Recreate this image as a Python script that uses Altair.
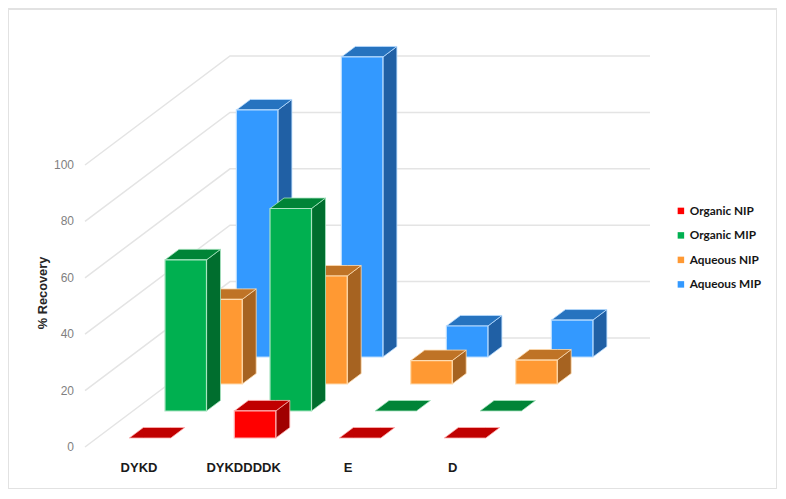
import altair as alt
import pandas as pd

categories = ["DYKD", "DYKDDDDK", "E", "D"]
series = ["Organic NIP", "Organic MIP", "Aqueous NIP", "Aqueous MIP"]
organic_nip = [0, 9.6, 0, 0]
organic_mip = [53.6, 71.8, 0, 0]
aqueous_nip = [30, 38.3, 8.3, 8.5]
aqueous_mip = [87.6, 106.4, 11, 13.1]
ticks = [0, 20, 40, 60, 80, 100]

values = [organic_nip, organic_mip, aqueous_nip, aqueous_mip]
front_col = ["#ff0000", "#00b050", "#ff9933", "#3399ff"]
top_col = ["#c00000", "#008437", "#bf7326", "#2673bf"]
side_col = ["#a00000", "#006e2e", "#a66321", "#2060a5"]
edge_col = ["#ffb0b0", "#a8e4c0", "#ffdcb0", "#b8dcff"]

# oblique projection of the chart's 3-D space onto the page
X0, Y0, W, H = 8, 9, 769, 480
ZERO = 447
PX = 2.82
CAT_STEP, SER_STEP_X, SER_STEP_Y = 105.0, 35.7, 27.0
LEFT, BAR_W, DEP_X, DEP_Y = 129.3, 41.5, 14.0, 10.5
GRID_L, GRID_DX, GRID_DY, GRID_R = 85, 145, 109, 650

x_scale = alt.Scale(domain=[X0, X0 + W], range=[0, W], nice=False, zero=False)
y_scale = alt.Scale(domain=[ZERO - Y0 - H, ZERO - Y0], range=[H, 0], nice=False, zero=False)
X = lambda f: alt.X(f, type="quantitative", scale=x_scale, axis=None)
Y = lambda f: alt.Y(f, type="quantitative", scale=y_scale, axis=None)

grid_rows = []
for t in ticks:
    u = t * PX
    grid_rows += [
        dict(t=t, x=GRID_L, y=u),
        dict(t=t, x=GRID_L + GRID_DX, y=u + GRID_DY),
        dict(t=t, x=GRID_R, y=u + GRID_DY),
    ]
grid = alt.Chart(pd.DataFrame(grid_rows)).mark_line(color="#e4e4e4", strokeWidth=1.5).encode(
    x=X("x"), y=Y("y"), detail="t:N", order="x:Q"
)

layers = [grid]
for s in [3, 2, 1, 0]:
    front, side, top = [], [], []
    for i, v in enumerate(values[s]):
        xl = LEFT + CAT_STEP * i + SER_STEP_X * s
        xr = xl + BAR_W
        base = 9 + SER_STEP_Y * s
        up = base + v * PX
        if v > 0:
            front.append(dict(x=xl, x2=xr, y=base, y2=up, series=series[s]))
            side += [
                dict(id=i, x=xr, y=up, y2=base),
                dict(id=i, x=xr + DEP_X, y=up + DEP_Y, y2=base + DEP_Y),
            ]
        top += [
            dict(id=i, x=xl, y=up, y2=up),
            dict(id=i, x=xl + DEP_X, y=up + DEP_Y, y2=up),
            dict(id=i, x=xr, y=up + DEP_Y, y2=up),
            dict(id=i, x=xr + DEP_X, y=up + DEP_Y, y2=up + DEP_Y),
        ]
    if side:
        layers.append(
            alt.Chart(pd.DataFrame(side))
            .mark_area(color=side_col[s], stroke=edge_col[s], strokeWidth=0.8, interpolate="linear", orient="vertical")
            .encode(x=X("x"), y=Y("y"), y2="y2:Q", detail="id:N")
        )
    layers.append(
        alt.Chart(pd.DataFrame(top))
        .mark_area(color=top_col[s], stroke=edge_col[s], strokeWidth=0.8, interpolate="linear", orient="vertical")
        .encode(x=X("x"), y=Y("y"), y2="y2:Q", detail="id:N")
    )
    if front:
        layers.append(
            alt.Chart(pd.DataFrame(front))
            .mark_rect(stroke=edge_col[s], strokeWidth=1.2)
            .encode(
                x=X("x"), x2="x2:Q", y=Y("y"), y2="y2:Q",
                color=alt.Color(
                    "series:N",
                    scale=alt.Scale(domain=series, range=front_col),
                    legend=alt.Legend(
                        title=None, orient="none", legendX=667, legendY=196,
                        symbolType="square", symbolSize=42, symbolStrokeWidth=0,
                        labelFont="Lato", labelFontWeight="bold", labelFontSize=11.8,
                        labelColor="#151515", rowPadding=11.5, labelOffset=3,
                    ),
                ),
            )
        )

tick_df = pd.DataFrame({"x": [74] * len(ticks), "y": [t * PX for t in ticks], "label": [str(t) for t in ticks]})
tick_text = alt.Chart(tick_df).mark_text(
    align="right", baseline="middle", font="Liberation Sans", fontSize=12, color="#7f7f7f"
).encode(x=X("x"), y=Y("y"), text="label:N")

cat_df = pd.DataFrame({"x": [139 + 104.6 * i for i in range(4)], "y": [ZERO - 467.5] * 4, "label": categories})
cat_text = alt.Chart(cat_df).mark_text(
    align="center", baseline="middle", font="Liberation Sans", fontWeight="bold", fontSize=13, color="#1a1a1a"
).encode(x=X("x"), y=Y("y"), text="label:N")

title_df = pd.DataFrame({"x": [43], "y": [ZERO - 293], "label": ["% Recovery"]})
title_text = alt.Chart(title_df).mark_text(
    align="center", baseline="middle", angle=270, font="Liberation Sans", fontWeight="bold", fontSize=12.8, color="#262626"
).encode(x=X("x"), y=Y("y"), text="label:N")

chart = (
    alt.layer(*layers, tick_text, cat_text, title_text)
    .properties(
        width=W, height=H, autosize="none",
        padding={"left": 0, "top": 1, "right": 0, "bottom": 0},
        background="white",
    )
    .resolve_scale(color="shared")
    .configure_view(stroke="#e2e2e2", strokeWidth=2)
)
chart.save("out.html", embed_options={"renderer": "svg", "actions": False})
